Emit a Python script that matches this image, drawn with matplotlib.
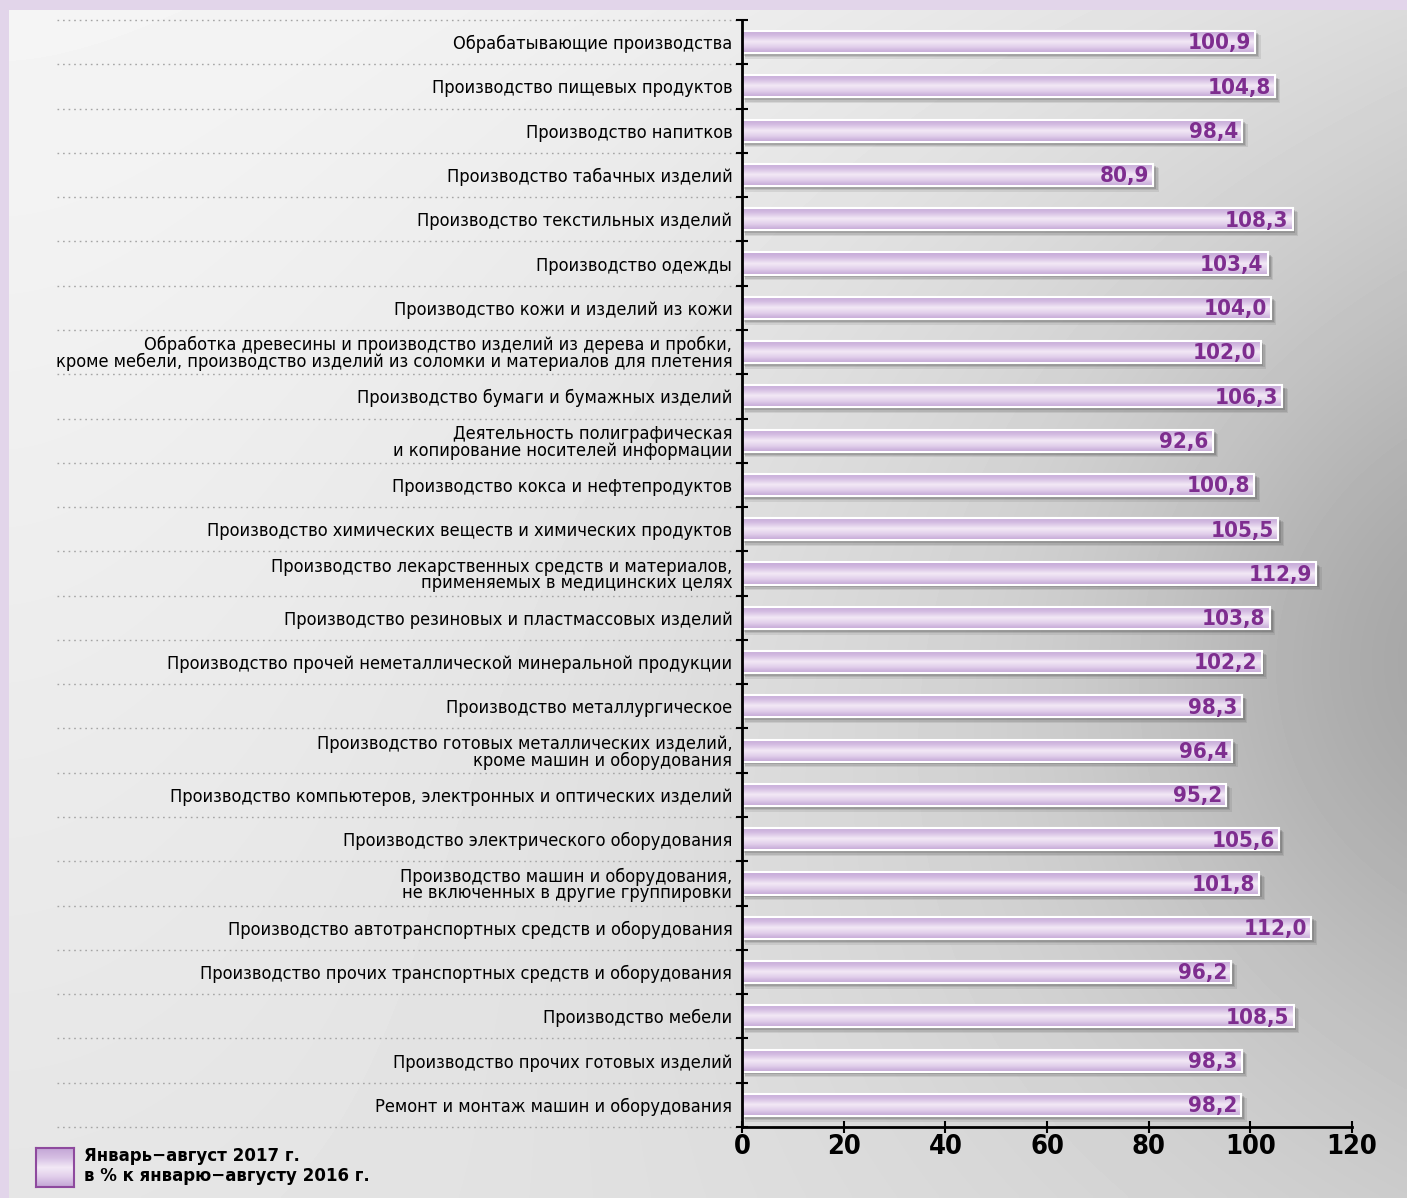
import numpy as np
import matplotlib
matplotlib.use('Agg')
import matplotlib.pyplot as plt
from matplotlib.colors import LinearSegmentedColormap
from matplotlib.patches import Rectangle
from matplotlib.lines import Line2D

plt.rcParams['font.family'] = ['DejaVu Sans']
plt.rcParams['font.stretch'] = 'condensed'

categories = [
    'Обрабатывающие производства',
    'Производство пищевых продуктов',
    'Производство напитков',
    'Производство табачных изделий',
    'Производство текстильных изделий',
    'Производство одежды',
    'Производство кожи и изделий из кожи',
    'Обработка древесины и производство изделий из дерева и пробки,\n'
    'кроме мебели, производство изделий из соломки и материалов для плетения',
    'Производство бумаги и бумажных изделий',
    'Деятельность полиграфическая\nи копирование носителей информации',
    'Производство кокса и нефтепродуктов',
    'Производство химических веществ и химических продуктов',
    'Производство лекарственных средств и материалов,\nприменяемых в медицинских целях',
    'Производство резиновых и пластмассовых изделий',
    'Производство прочей неметаллической минеральной продукции',
    'Производство металлургическое',
    'Производство готовых металлических изделий,\nкроме машин и оборудования',
    'Производство компьютеров, электронных и оптических изделий',
    'Производство электрического оборудования',
    'Производство машин и оборудования,\nне включенных в другие группировки',
    'Производство автотранспортных средств и оборудования',
    'Производство прочих транспортных средств и оборудования',
    'Производство мебели',
    'Производство прочих готовых изделий',
    'Ремонт и монтаж машин и оборудования',
]
values = [100.9, 104.8, 98.4, 80.9, 108.3, 103.4, 104.0, 102.0, 106.3, 92.6,
          100.8, 105.5, 112.9, 103.8, 102.2, 98.3, 96.4, 95.2, 105.6, 101.8,
          112.0, 96.2, 108.5, 98.3, 98.2]
x_ticks = [0, 20, 40, 60, 80, 100, 120]
legend_text = 'Январь\u2212август 2017 г.\nв % к январю\u2212августу 2016 г.'

W, H = 1407, 1198
fig = plt.figure(figsize=(W / 100, H / 100), dpi=100)

# gray backdrop: light on the left, darker towards the right edge
bg = fig.add_axes([0, 0, 1, 1], zorder=-10)
yy, xx = np.mgrid[0:1:300j, 0:1:350j]
shade = 0.96 - 0.06 * yy - 0.20 * xx ** 1.8 * (0.5 + 0.5 * np.sin(np.pi * yy))
shade -= 0.07 * np.exp(-((xx - 1.0) ** 2 / 0.03 + (yy - 0.55) ** 2 / 0.06))
shade = np.clip(shade, 0.55, 1)
bg.imshow(shade, cmap='gray', vmin=0, vmax=1, extent=[0, 1, 0, 1],
          aspect='auto', interpolation='bilinear')
bg.add_patch(Rectangle((0, 0), 9 / W, 1, color='#e2d5ea', lw=0))
bg.add_patch(Rectangle((0, 1 - 10 / H), 1, 10 / H, color='#e2d5ea', lw=0))
bg.set_xlim(0, 1)
bg.set_ylim(0, 1)
bg.axis('off')

ax = fig.add_axes([742 / W, 1 - 1127 / H, 610 / W, 1107 / H])
ax.patch.set_alpha(0)

bar_cmap = LinearSegmentedColormap.from_list(
    'bar', ['#c3a6d6', '#d6bfe3', '#f3e9f6', '#e0cdea', '#c3a5d5'])
grad = np.linspace(0, 1, 64).reshape(-1, 1)

pos = np.arange(len(categories))
h = 0.5
for i, v in enumerate(values):
    # blurred shadow under each bar
    for k, a in enumerate([0.10, 0.13, 0.18]):
        off = 0.9 - 0.3 * k
        ax.add_patch(Rectangle((0.3 + off * 0.4, i - h / 2 + 0.03 + off * 0.07),
                               v + off * 0.5, h + off * 0.04,
                               color='#303030', alpha=a, lw=0, zorder=1))
    ax.imshow(grad, cmap=bar_cmap, extent=[0, v, i + h / 2, i - h / 2],
              aspect='auto', zorder=2, interpolation='bilinear')
    ax.text(v - 0.8, i + 0.03, f'{v:.1f}'.replace('.', ','), ha='right',
            va='center', fontsize=16, fontweight='bold', color='#7e2d8f',
            zorder=4)

ax.barh(pos, values, height=h, facecolor='none', edgecolor='white',
        linewidth=1.5, zorder=3)

ax.set_xlim(0, 120)
ax.set_ylim(len(categories) - 0.5, -0.5)
ax.set_xticks(x_ticks)
ax.set_xticklabels([str(t) for t in x_ticks], fontsize=19.5, fontweight='bold')
ax.set_yticks(pos)
ax.set_yticklabels(categories, fontsize=13.1, linespacing=0.92)
ax.set_yticks(np.arange(-0.5, len(categories)), minor=True)
ax.tick_params(axis='y', which='major', length=0, pad=7)
ax.tick_params(axis='y', which='minor', length=8, width=1.5,
               direction='inout', color='black')
ax.tick_params(axis='x', length=8, width=1.5, direction='inout', pad=1)
for s in ['top', 'right']:
    ax.spines[s].set_visible(False)
for s in ['left', 'bottom']:
    ax.spines[s].set_linewidth(2)
    ax.spines[s].set_zorder(5)

# dotted separators between rows, running under the labels
tr = ax.get_yaxis_transform()
for b in np.arange(-0.5, len(categories)):
    ax.add_line(Line2D([(57 - 742) / 610, 0], [b, b], transform=tr,
                       color='#a5a5a5', lw=1, ls=(0, (1.2, 2.8)),
                       clip_on=False, zorder=0))

# legend swatch and caption
lx0, ly0 = 36 / W, 1 - 1187 / H
sw = fig.add_axes([lx0, ly0, 38 / W, 39 / H])
sw.imshow(grad, cmap=bar_cmap, extent=[0, 1, 0, 1], aspect='auto')
for s in sw.spines.values():
    s.set_color('#8e4a9e')
    s.set_linewidth(1.5)
sw.set_xticks([])
sw.set_yticks([])
fig.text(84 / W, 1 - 1166 / H, legend_text, ha='left', va='center',
         fontsize=13.3, fontweight='bold', linespacing=1.2)

fig.savefig('out.png', dpi=100)
